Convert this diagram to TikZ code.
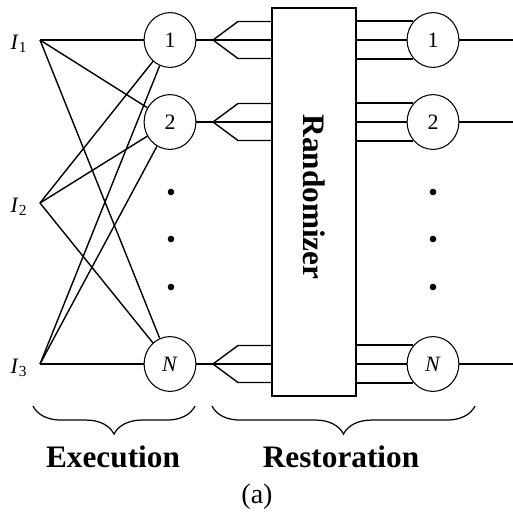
\documentclass[tikz,border=0pt]{standalone}
\usepackage{fontspec}
\setmainfont{Liberation Serif}
\usepackage{tikz}
\usetikzlibrary{shapes.geometric, calc, decorations.pathreplacing}
\tikzset{unit/.style={ellipse, draw=black, fill=white, line width=0.6pt, inner sep=0pt, minimum width=29.5pt, minimum height=31.2pt, font=\fontsize{12.5}{14}\selectfont},
         wire/.style={line width=0.8pt},
         brc/.style={line width=0.7pt, decorate, decoration={brace, mirror, amplitude=16pt}},
         bigword/.style={font=\fontsize{17.8}{20}\selectfont\bfseries},
         inword/.style={font=\fontsize{12.5}{14}\selectfont}}
\newcommand{\inlab}[1]{\textit{I}\textsubscript{#1}}

\begin{document}
\begin{tikzpicture}[x=0.02cm, y=-0.02cm]
                \useasboundingbox (0,0) rectangle (513,525);

                % inputs
                \coordinate (I1) at (40,40);
                \coordinate (I2) at (40,203);
                \coordinate (I3) at (40,364);
                \node[inword] (l1) at (19,44) {\inlab{1}};
                \node[inword] (l2) at (19,207) {\inlab{2}};
                \node[inword] (l3) at (19,368) {\inlab{3}};

                % execution units
                \node[unit] (c1) at (170,40) {1};
                \node[unit] (c2) at (170,122) {2};
                \node[unit] (cN) at (170,364) {\textit{N}};

                \foreach \i in {1,2,3}
                    \foreach \j in {1,2,N}
                        \draw[wire] (I\i) -- (c\j);

                \foreach \y in {192,239,287}{
                    \fill (171,\y) circle (3.3);
                    \fill (433,\y) circle (3.3);
                }

                % randomizer
                \node[draw, line width=0.9pt, minimum width=47.6pt, minimum height=221pt, inner sep=0pt] (rand) at (314,202) {};
                \node[bigword, rotate=-90] (rtext) at (314,197) {Randomizer};

                % restoration units
                \node[unit] (r1) at (433,40) {1};
                \node[unit] (r2) at (433,122) {2};
                \node[unit] (rN) at (433,364) {\textit{N}};

                % forks into the randomizer and bundles out of it
                \foreach \k/\y in {1/40,2/122,N/364}{
                    \coordinate (f\k) at (213,\y);
                    \coordinate (fu\k) at ($(f\k)+(25,-18.5)$);
                    \coordinate (fd\k) at ($(f\k)+(25,18.5)$);
                    \draw[wire] (c\k) -- (f\k) -- (f\k -| rand.west);
                    \draw[wire] (f\k) -- (fu\k) -- (fu\k -| rand.west);
                    \draw[wire] (f\k) -- (fd\k) -- (fd\k -| rand.west);
                    \draw[wire] (r\k.136 -| rand.east) -- (r\k.136);
                    \draw[wire] (r\k.180 -| rand.east) -- (r\k.180);
                    \draw[wire] (r\k.224 -| rand.east) -- (r\k.224);
                    \coordinate (o\k) at (513,\y);
                    \draw[wire] (r\k) -- (o\k);
                }

                % braces and captions
                \draw[brc] (33,406) -- (195,406);
                \draw[brc] (212,406) -- (475,406);
                \node[bigword] (exe) at (113,457) {Execution};
                \node[bigword] (rest) at (341,457) {Restoration};
                \node[font=\fontsize{16}{18}\selectfont] (cap) at (257,497) {(a)};
\end{tikzpicture}
\end{document}
